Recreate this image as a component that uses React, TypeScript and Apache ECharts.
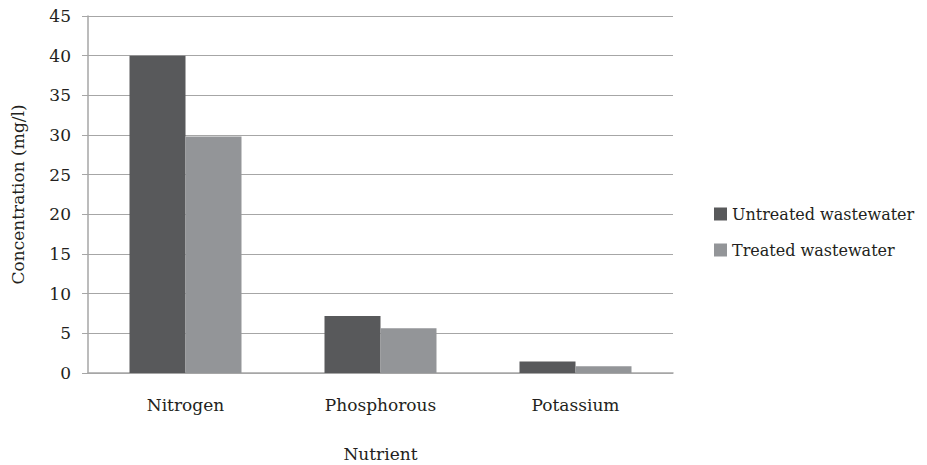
import React, { useEffect, useRef } from "react";
import * as echarts from "echarts";

const categories = ["Nitrogen", "Phosphorous", "Potassium"];
const untreated = [40, 7.2, 1.45];
const treated = [29.8, 5.65, 0.85];
const seriesNames = ["Untreated wastewater", "Treated wastewater"];

export default function App() {
  const ref = useRef<HTMLDivElement>(null);
  useEffect(() => {
    if (!ref.current) return;
    const chart = echarts.init(ref.current, undefined, { renderer: "svg" });
    const font = "DejaVu Serif";
    const txt = { fontFamily: font, fontSize: 17, color: "#231f20" };
    chart.setOption({
      animation: false,
      textStyle: txt,
      grid: {
        left: 88,
        right: 254,
        top: 16,
        bottom: 92,
        containLabel: false,
        outerBoundsMode: "none",
      },
      legend: {
        orient: "vertical",
        left: 709,
        top: 201,
        itemWidth: 13,
        itemHeight: 13,
        itemGap: 20,
        itemStyle: { borderWidth: 0 },
        icon: "rect",
        textStyle: { ...txt, fontSize: 16 },
        data: seriesNames,
      },
      xAxis: {
        type: "category",
        data: categories,
        name: "Nutrient",
        nameLocation: "middle",
        nameGap: 72,
        nameTextStyle: txt,
        axisLine: { lineStyle: { color: "#a6a6a6", width: 1.5 } },
        axisTick: { show: false },
        axisLabel: { ...txt, margin: 23 },
      },
      yAxis: {
        type: "value",
        min: 0,
        max: 45,
        interval: 5,
        name: "Concentration (mg/l)",
        nameLocation: "middle",
        nameGap: 62,
        nameTextStyle: txt,
        axisLine: { show: true, lineStyle: { color: "#a6a6a6", width: 1.5 } },
        axisTick: { show: true, length: 6, lineStyle: { color: "#a6a6a6" } },
        axisLabel: { ...txt, margin: 17 },
        splitLine: { lineStyle: { color: "#a6a6a6", width: 1 } },
      },
      series: [
        {
          name: seriesNames[0],
          type: "bar",
          data: untreated,
          barWidth: 56,
          barGap: "0%",
          itemStyle: { color: "#58595b" },
        },
        {
          name: seriesNames[1],
          type: "bar",
          data: treated,
          barWidth: 56,
          barGap: "0%",
          itemStyle: { color: "#939598" },
        },
      ],
    });
    return () => chart.dispose();
  }, []);
  return (
    <div
      ref={ref}
      style={{ position: "absolute", left: 0, top: 0, width: 927, height: 465 }}
    />
  );
}
